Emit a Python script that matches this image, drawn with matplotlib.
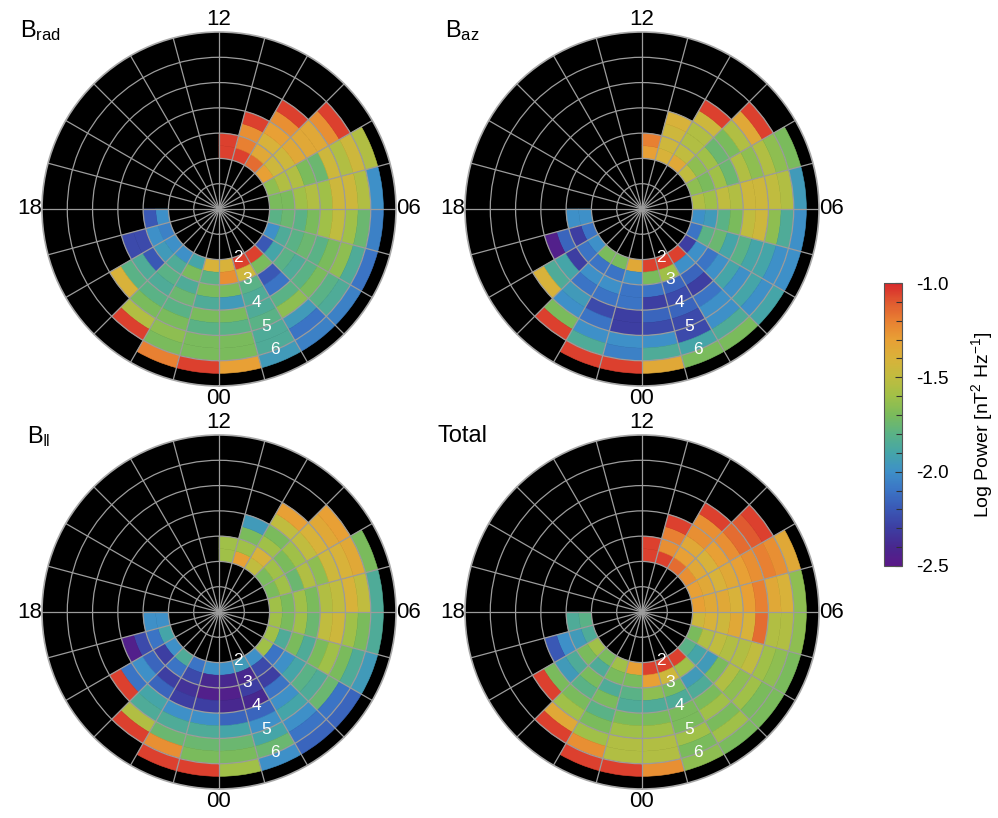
import numpy as np
import matplotlib
matplotlib.use("Agg")
from matplotlib import pyplot as plt
from matplotlib.colors import LinearSegmentedColormap, Normalize
from matplotlib.cm import ScalarMappable
from matplotlib.ticker import MultipleLocator

plt.rcParams['font.family'] = ['Liberation Sans', 'DejaVu Sans']
plt.rcParams['mathtext.fontset'] = 'custom'
plt.rcParams['mathtext.rm'] = 'Liberation Sans'
plt.rcParams['mathtext.it'] = 'Liberation Sans:italic'
plt.rcParams['mathtext.bf'] = 'Liberation Sans:bold'

# radial bins (L shell), 0.5 wide, inner edges
L_EDGES = [2.0, 2.5, 3.0, 3.5, 4.0, 4.5, 5.0, 5.5, 6.0]
L_WIDTH = 0.5
# white L labels drawn along MLT ~1.45
L_LABELS = ['2', '3', '4', '5', '6']
L_LABEL_R = [2.05, 3.0, 4.0, 5.0, 6.0]
MLT_LABELS = {'00': 0, '06': 6, '12': 12, '18': 18}

# log power per MLT hour (row 0 = 00-01 MLT ... row 23 = 23-24 MLT), per L bin from L=2
BRAD = [
    [-1.40, -1.25, -1.70, -1.95, -1.70, -1.80, -1.70, -1.70, -1.30],
    [-1.05, -1.45, -1.80, -1.85, -1.85, -1.80, -1.85, -1.85, -1.95],
    [-1.05, -1.70, -2.20, -2.10, -1.80, -1.65, -1.95, -2.10, -2.05],
    [-2.20, -1.90, -1.80, -1.85, -1.80, -1.70, -1.80, -1.85, -2.05],
    [-2.00, -1.85, -1.80, -1.75, -1.80, -1.70, -1.65, -1.85, -2.10],
    [-1.80, -1.75, -1.80, -1.70, -1.60, -1.50, -1.60, -1.75, -2.05],
    [-1.70, -1.70, -1.60, -1.55, -1.60, -1.45, -1.45, -1.55, -2.00],
    [-1.65, -1.55, -1.55, -1.70, -1.75, -1.45, -1.55, -1.45, -1.55],
    [-1.30, -1.45, -1.45, -1.35, -1.35, -1.35, -1.25, -1.05],
    [-1.15, -1.35, -1.40, -1.30, -1.25, -1.05],
    [-1.05, -1.20, -1.25, -1.05],
    [-1.05, -1.05],
    [], [], [], [], [], [],
    [-2.00, -2.20],
    [-2.05, -2.00, -2.25, -2.25],
    [-2.00, -1.95, -2.20, -1.85, -1.80, -1.40],
    [-2.00, -1.85, -1.80, -1.85, -1.80, -1.70, -1.55, -1.05],
    [-1.90, -1.70, -1.85, -1.75, -1.80, -1.70, -1.65, -1.70, -1.20],
    [-1.40, -1.80, -1.70, -1.85, -1.70, -1.80, -1.70, -1.70, -1.05],
]

BAZ = [
    [-1.05, -1.70, -2.10, -2.30, -2.15, -2.25, -2.00, -1.85, -1.35],
    [-1.05, -1.60, -2.15, -2.25, -2.15, -2.25, -2.25, -1.90, -1.70],
    [-1.05, -2.00, -2.15, -2.30, -2.10, -2.00, -2.00, -1.85, -1.70],
    [-2.30, -2.00, -2.10, -2.00, -1.90, -2.00, -1.90, -2.00, -1.90],
    [-2.10, -1.80, -1.75, -1.90, -1.80, -1.90, -1.90, -2.00, -2.00],
    [-2.00, -1.95, -1.80, -1.70, -1.50, -1.45, -1.65, -1.85, -2.00],
    [-1.55, -1.60, -1.50, -1.55, -1.45, -1.45, -1.50, -1.55, -1.95],
    [-1.65, -1.70, -1.60, -1.75, -1.55, -1.65, -1.55, -1.65, -1.70],
    [-1.50, -1.65, -1.60, -1.75, -1.70, -1.55, -1.35, -1.05],
    [-1.35, -1.50, -1.55, -1.55, -1.45, -1.05],
    [-1.40, -1.45, -1.45, -1.40],
    [-1.30, -1.20],
    [], [], [], [], [], [],
    [-2.00, -2.00],
    [-2.10, -2.30, -2.15, -2.45],
    [-2.00, -2.10, -2.30, -1.90, -1.85, -1.40],
    [-1.70, -2.10, -2.00, -2.10, -1.95, -2.00, -1.70, -1.05],
    [-1.70, -2.10, -2.00, -2.10, -2.25, -2.10, -2.00, -1.85, -1.05],
    [-1.35, -2.00, -2.10, -2.10, -2.30, -2.30, -2.00, -2.05, -1.05],
]

BPAR = [
    [-2.00, -2.40, -2.45, -2.40, -2.15, -1.90, -1.75, -1.70, -1.60],
    [-1.95, -2.40, -2.30, -2.40, -2.15, -2.00, -1.90, -1.75, -2.00],
    [-2.00, -2.25, -2.30, -2.10, -2.00, -1.90, -2.00, -2.10, -2.15],
    [-1.60, -2.10, -2.00, -1.90, -1.80, -1.85, -1.75, -2.10, -2.15],
    [-1.60, -1.85, -1.70, -1.85, -1.70, -1.60, -1.70, -1.85, -1.95],
    [-1.60, -1.70, -1.60, -1.75, -1.50, -1.45, -1.60, -1.70, -1.85],
    [-1.60, -1.70, -1.60, -1.70, -1.55, -1.50, -1.40, -1.50, -1.85],
    [-1.70, -1.60, -1.75, -1.55, -1.65, -1.45, -1.40, -1.35, -1.70],
    [-1.70, -1.60, -1.70, -1.60, -1.50, -1.40, -1.35, -1.30],
    [-1.50, -1.40, -1.60, -1.70, -1.50, -1.30],
    [-1.30, -1.60, -1.70, -1.95],
    [-1.60, -1.60],
    [], [], [], [], [], [],
    [-2.00, -2.00],
    [-1.90, -2.10, -2.25, -2.45],
    [-2.00, -2.30, -2.15, -2.00, -2.10, -1.05],
    [-1.85, -2.10, -2.30, -2.15, -1.90, -1.85, -1.55, -1.05],
    [-2.10, -2.25, -2.35, -2.30, -2.00, -1.85, -1.75, -1.25, -1.05],
    [-2.00, -2.40, -2.45, -2.30, -2.00, -1.85, -1.75, -1.70, -1.05],
]

TOTAL = [
    [-1.05, -1.30, -1.65, -1.85, -1.70, -1.60, -1.55, -1.55, -1.25],
    [-1.05, -1.45, -1.70, -1.85, -1.70, -1.70, -1.60, -1.70, -1.65],
    [-1.05, -1.60, -1.95, -1.85, -1.70, -1.60, -1.70, -1.60, -1.70],
    [-1.80, -1.90, -1.95, -1.70, -1.55, -1.65, -1.60, -1.70, -1.70],
    [-1.70, -1.55, -1.50, -1.55, -1.55, -1.50, -1.60, -1.65, -1.70],
    [-1.45, -1.40, -1.45, -1.35, -1.40, -1.15, -1.55, -1.55, -1.65],
    [-1.30, -1.35, -1.35, -1.40, -1.30, -1.20, -1.35, -1.40, -1.65],
    [-1.30, -1.35, -1.40, -1.35, -1.30, -1.25, -1.20, -1.25, -1.35],
    [-1.25, -1.35, -1.40, -1.30, -1.25, -1.15, -1.10, -1.05],
    [-1.15, -1.30, -1.35, -1.25, -1.25, -1.05],
    [-1.05, -1.25, -1.20, -1.05],
    [-1.05, -1.05],
    [], [], [], [], [], [],
    [-1.80, -1.85],
    [-1.85, -1.95, -2.00, -2.20],
    [-1.60, -1.70, -1.85, -1.95, -1.70, -1.05],
    [-1.70, -1.85, -1.70, -1.80, -1.70, -1.60, -1.35, -1.05],
    [-1.60, -1.70, -1.85, -1.70, -1.80, -1.70, -1.60, -1.25, -1.05],
    [-1.30, -1.70, -1.80, -1.85, -1.70, -1.60, -1.55, -1.55, -1.05],
]

CB_COLORS = ['#5a1888', '#48288f', '#3d3ea2', '#3a58b5', '#3b74c5', '#3e90c8',
             '#45a5a8', '#5ab286', '#7abb5c', '#a0c048', '#c0bc3f', '#d8b23a',
             '#e8a035', '#e88032', '#e05a30', '#d8282c']
cmap = LinearSegmentedColormap.from_list('power', CB_COLORS)
norm = Normalize(vmin=-2.5, vmax=-1.0)

W, H = 998, 818
R_PX = 177  # disk radius in pixels


def px_axes(cx, cy):
    return [(cx - R_PX) / W, 1 - (cy + R_PX) / H, 2 * R_PX / W, 2 * R_PX / H]


def mlt2rad(h):
    return h * 2 * np.pi / 24


def draw_panel(fig, cx, cy, rows):
    ax = fig.add_axes(px_axes(cx, cy), projection='polar')
    ax.set_theta_zero_location('S')
    ax.set_theta_direction(1)
    ax.set_facecolor('black')

    thetas, bottoms, vals = [], [], []
    for mlt, row in enumerate(rows):
        for i, v in enumerate(row):
            thetas.append(mlt2rad(mlt + 0.5))
            bottoms.append(L_EDGES[i])
            vals.append(v)
    colors = cmap(norm(np.array(vals)))
    ax.bar(thetas, L_WIDTH, width=mlt2rad(1), bottom=bottoms, color=colors,
           edgecolor=colors, linewidth=0.4, align='center', zorder=1)

    ax.set_ylim(0, 7)
    ax.set_xticks(mlt2rad(np.arange(24)))
    ax.set_yticks([1, 2, 3, 4, 5, 6])
    ax.set_xticklabels([])
    ax.set_yticklabels([])
    ax.tick_params(length=0)
    ax.grid(True, color='#9c9c9c', linewidth=0.9)
    ax.spines['polar'].set_color('#a8a8a8')
    ax.spines['polar'].set_linewidth(1.2)

    for lab, h in MLT_LABELS.items():
        ax.text(mlt2rad(h), 7.5, lab, ha='center', va='center', fontsize=16,
                clip_on=False)
    for lab, r in zip(L_LABELS, L_LABEL_R):
        ax.text(mlt2rad(1.45), r, lab, ha='center', va='center', fontsize=12.5,
                color='white', zorder=5)
    return ax


fig = plt.figure(figsize=(W / 100, H / 100), dpi=100)

draw_panel(fig, 219, 209, BRAD)
draw_panel(fig, 642, 209, BAZ)
draw_panel(fig, 219, 612, BPAR)
draw_panel(fig, 642, 612, TOTAL)

fig.text(20 / W, 1 - 37 / H, r'B$_{\mathrm{rad}}$', fontsize=17, va='baseline')
fig.text(445 / W, 1 - 37 / H, r'B$_{\mathrm{az}}$', fontsize=17, va='baseline')
fig.text(27 / W, 1 - 443 / H, r'B$_{\Vert}$', fontsize=17, va='baseline')
fig.text(437 / W, 1 - 442 / H, 'Total', fontsize=17, va='baseline')

cax = fig.add_axes([884 / W, 1 - 566 / H, 18 / W, 283 / H])
cb = fig.colorbar(ScalarMappable(norm=norm, cmap=cmap), cax=cax)
cb.set_ticks([-2.5, -2.0, -1.5, -1.0])
cb.set_ticklabels(['-2.5', '-2.0', '-1.5', '-1.0'])
cax.yaxis.set_minor_locator(MultipleLocator(0.1))
cax.tick_params(which='both', direction='in', color='#333333', width=0.8,
                labelsize=13.5, pad=10)
cax.tick_params(which='major', length=5)
cax.tick_params(which='minor', length=4)
cb.outline.set_edgecolor('#555555')
cb.outline.set_linewidth(0.8)
fig.text(982 / W, 1 - 424.5 / H, r'Log Power [nT$^2$ Hz$^{-1}$]', rotation=90,
         ha='center', va='center', fontsize=14)

fig.savefig('out.png', dpi=100)
